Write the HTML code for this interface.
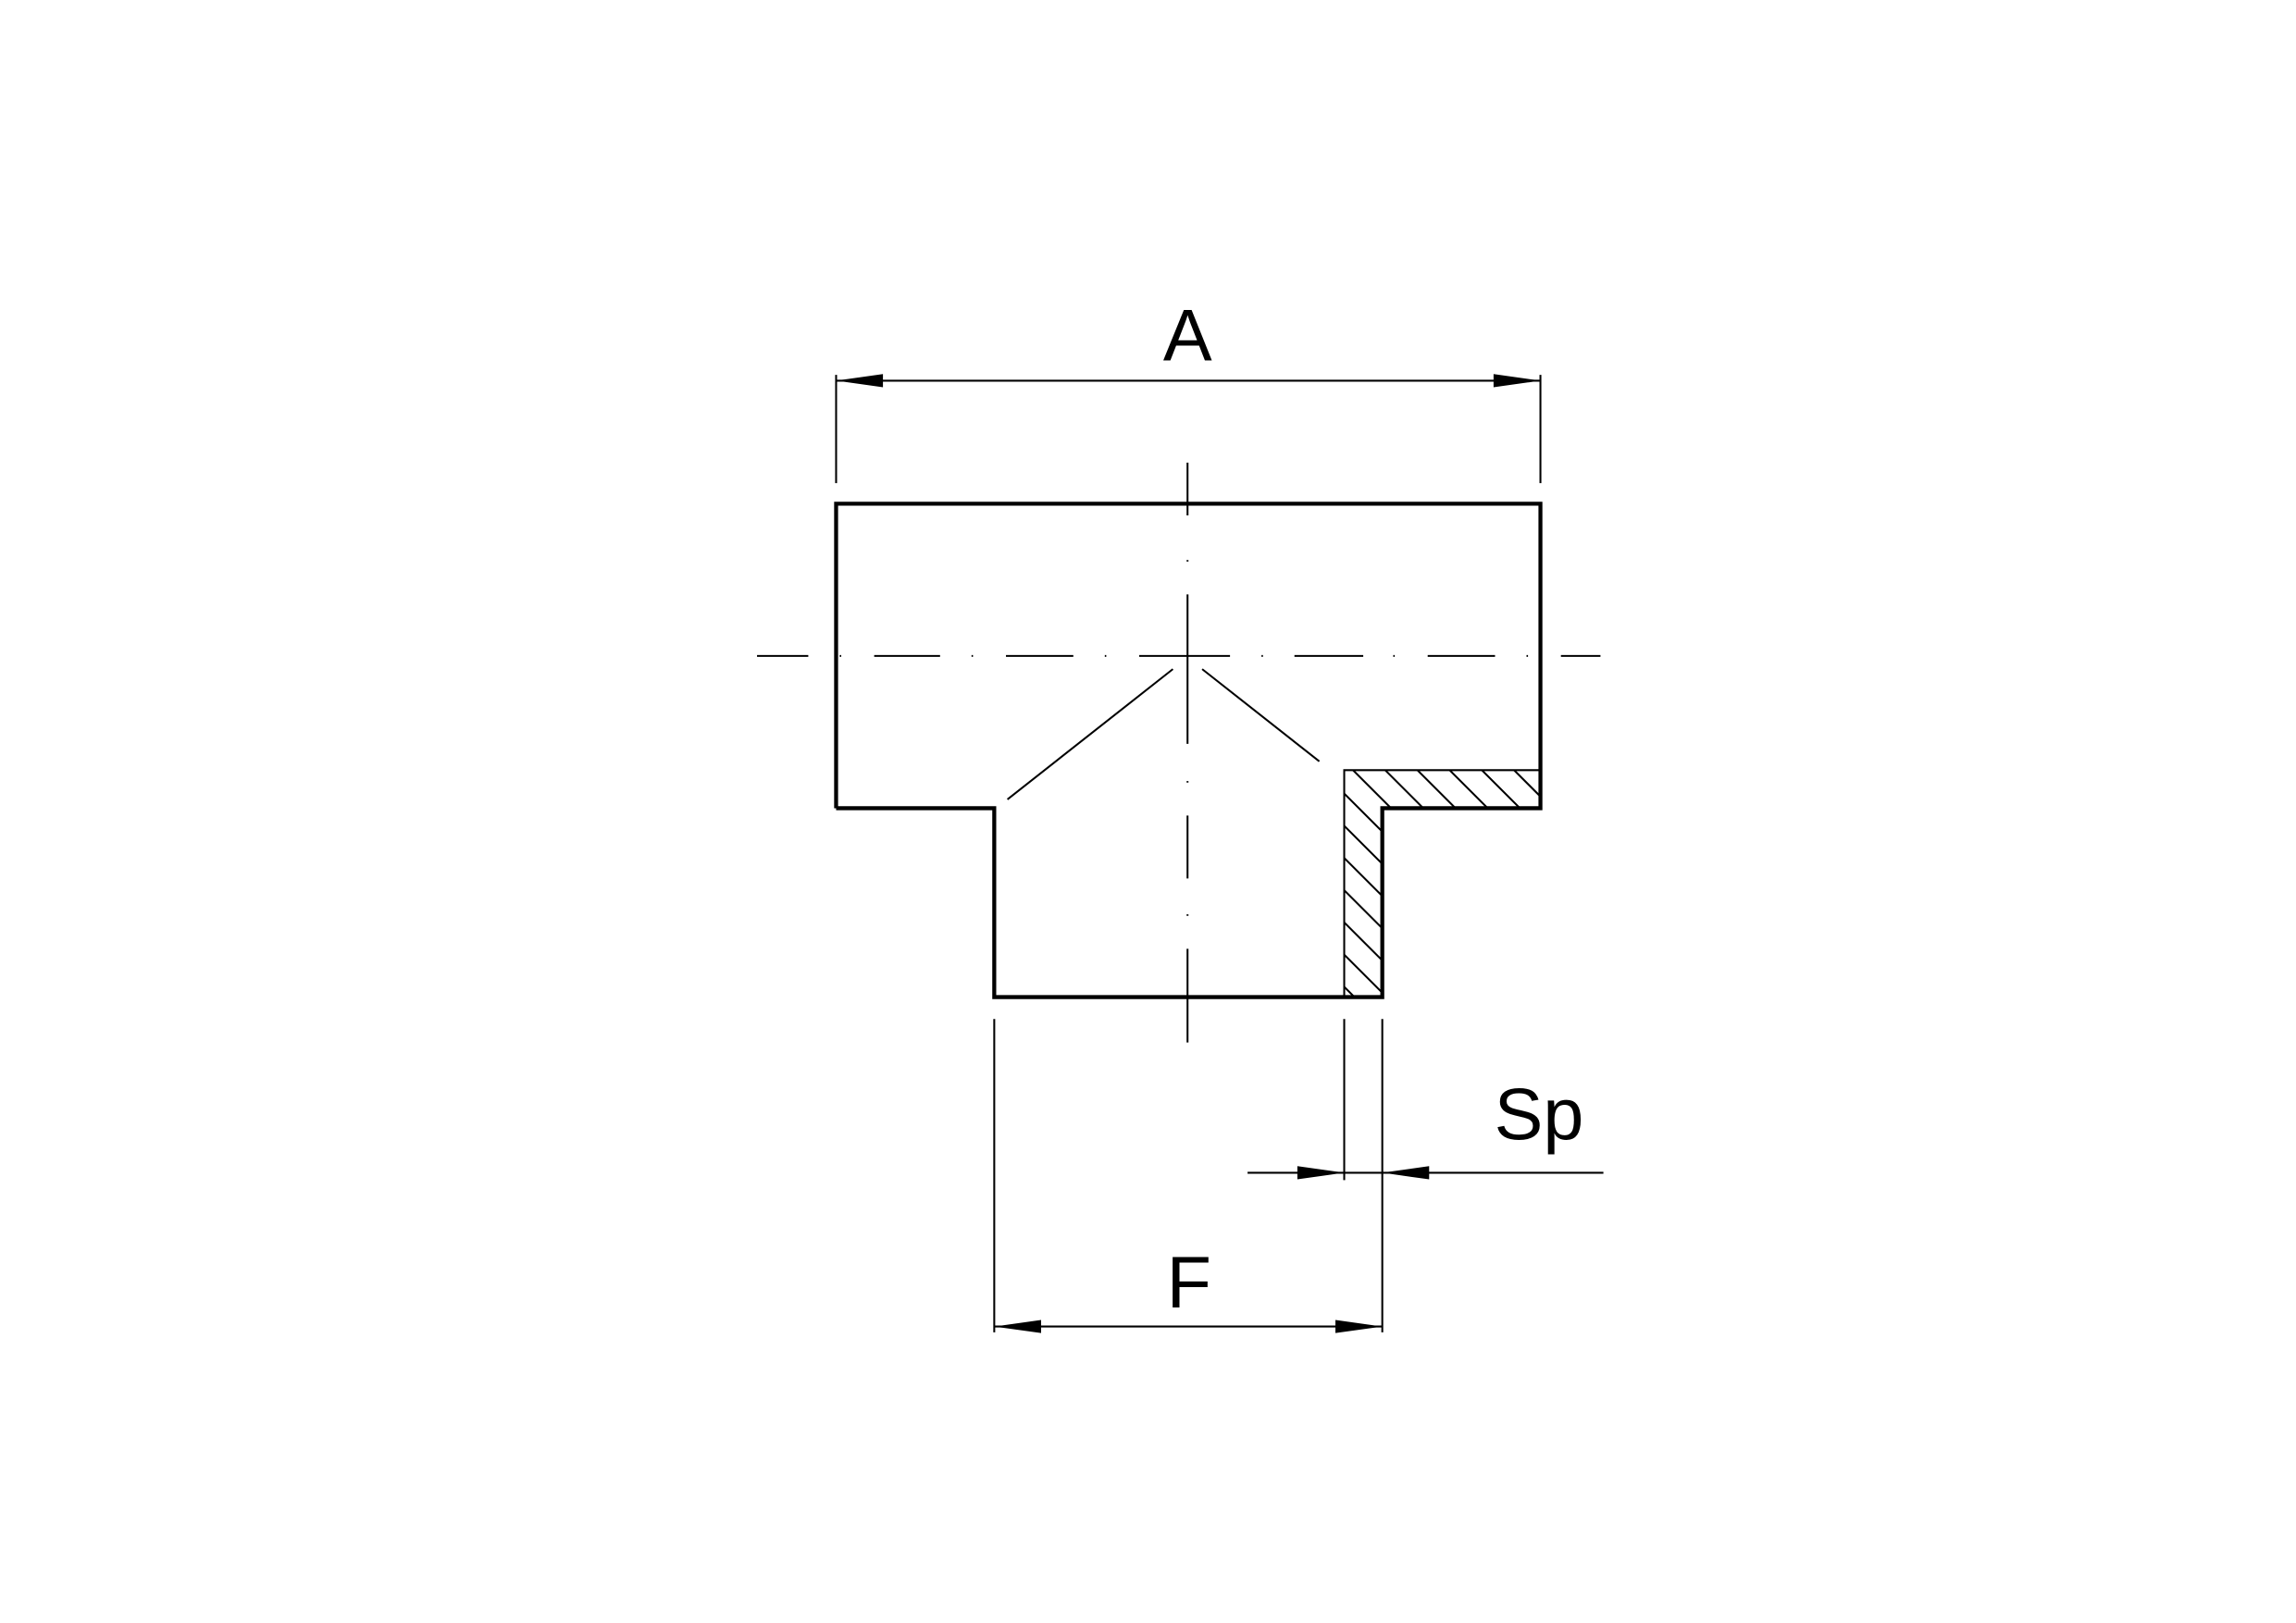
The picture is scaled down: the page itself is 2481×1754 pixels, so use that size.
<!DOCTYPE html>
<html><head><meta charset="utf-8"><style>html,body{margin:0;padding:0;background:#fff}svg{display:block}</style></head>
<body>
<svg width="2481" height="1754" viewBox="0 0 1568 1108.5" xmlns="http://www.w3.org/2000/svg">
<defs>
<clipPath id="hc"><polygon points="918,526 1052,526 1052,552 944,552 944,681 918,681"/></clipPath>
</defs>
<rect width="1568" height="1108.5" fill="#fff"/>
<g stroke="#000" fill="none" stroke-width="1.3">
<g clip-path="url(#hc)">
<path d="M 656 500 l 300 300 M 678 500 l 300 300 M 700 500 l 300 300 M 722 500 l 300 300 M 744 500 l 300 300 M 766 500 l 300 300 M 788 500 l 300 300 M 810 500 l 300 300 M 832 500 l 300 300 M 854 500 l 300 300 M 876 500 l 300 300 M 898 500 l 300 300 M 920 500 l 300 300 M 942 500 l 300 300 M 964 500 l 300 300 M 986 500 l 300 300 M 1008 500 l 300 300 M 1030 500 l 300 300 M 1052 500 l 300 300 M 1074 500 l 300 300"/>
</g>
<polyline points="918,681 918,526 1052,526"/>
<path d="M517 448H552 M573.5 448h1 M597 448H642 M663.5 448h1 M687 448H733 M754.5 448h1 M778 448H840 M861.5 448h1 M884 448H931 M951.5 448h1 M975 448H1021 M1042.5 448h1 M1066 448H1093"/>
<path d="M811 316V352 M811 382.5v1 M811 406V508 M811 533.5v1 M811 557V600 M811 624.5v1 M811 648V712"/>
<path d="M688 546L801 457 M821 457L901 520"/>
<path d="M571 256V330 M1052 256V330 M679 696V910 M918 696V806 M944 696V910"/>
<path d="M571 260H1052 M679 906H944 M852 801H944 M944 801H1095"/>
</g>
<polyline points="571,552 571,344 1052,344 1052,552 944,552 944,681 679,681 679,552 571,552" fill="none" stroke="#000" stroke-width="2.7" stroke-linejoin="miter"/>
<g fill="#000">
<polygon points="571,260 603,255.5 603,264.5"/>
<polygon points="1052,260 1020,255.5 1020,264.5"/>
<polygon points="679,906 711,901.5 711,910.5"/>
<polygon points="944,906 912,901.5 912,910.5"/>
<polygon points="918,801 886,796.5 886,805.5"/>
<polygon points="944,801 976,796.5 976,805.5"/>
</g>
<g font-family="Liberation Sans, sans-serif" font-size="50" fill="#000" text-anchor="middle">
<text x="811" y="246">A</text>
<text x="812" y="893">F</text>
<text x="1051" y="778">Sp</text>
</g>
</svg>
</body></html>
